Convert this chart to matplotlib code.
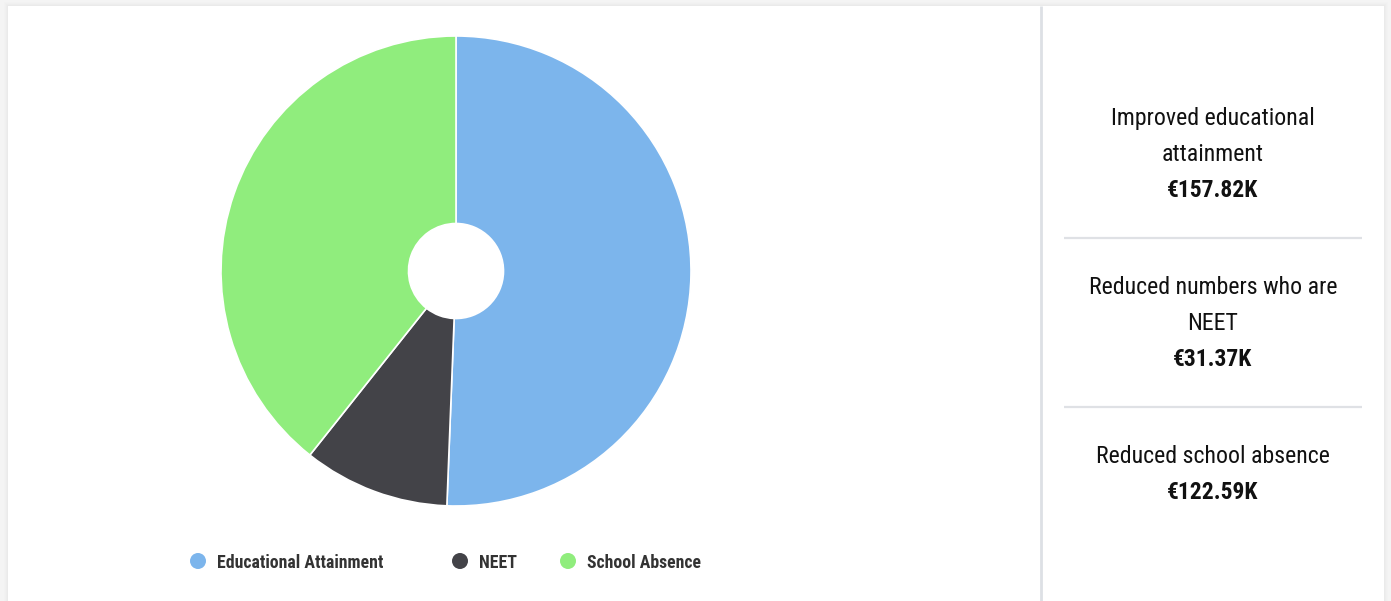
import matplotlib.pyplot as plt
from matplotlib.patches import Rectangle, Circle

# social value breakdown, thousands of euro
categories = ['Educational Attainment', 'NEET', 'School Absence']
values = [157.82, 31.37, 122.59]
colors = ['#7cb5ec', '#434348', '#90ed7d']

panel_titles = ['Improved educational\nattainment', 'Reduced numbers who are\nNEET', 'Reduced school absence']

W, H = 1391, 601
plt.rcParams['font.family'] = ['Roboto Condensed', 'Roboto', 'DejaVu Sans']

fig = plt.figure(figsize=(W / 100, H / 100), dpi=100, facecolor='#f4f4f4')
ax = fig.add_axes([0, 0, 1, 1])

# card with a soft shadow
for i, a in enumerate([0.02, 0.03, 0.04, 0.05]):
    d = 4 - i
    ax.add_patch(Rectangle((8 - d, -10), 1376 + 2 * d, H - 6 + 10 + d,
                           facecolor='#bbbbbb', alpha=a, edgecolor='none', zorder=0))
ax.add_patch(Rectangle((8, -10), 1376, H - 6 + 10, facecolor='white', edgecolor='none', zorder=1))

# donut
ax.pie(values, colors=colors, center=(456, H - 271), radius=235, startangle=90,
       counterclock=False,
       wedgeprops=dict(width=235 - 47.5, edgecolor='white', linewidth=1.2, zorder=2))

# legend
leg_x = [198, 460, 568]
for x, c, name in zip(leg_x, colors, categories):
    ax.add_patch(Circle((x, H - 561), 8, facecolor=c, edgecolor='none', zorder=3))
    ax.text(x + 19, H - 562.5, name, fontsize=12.8, fontweight='bold', color='#333333',
            va='center', ha='left', zorder=3)

# right-hand panel
ax.plot([1041, 1041], [0, H - 6], color='#dde0e5', lw=2, zorder=3, solid_capstyle='butt')
for y in [238, 407]:
    ax.plot([1064, 1362], [H - y, H - y], color='#dfe1e5', lw=1.6, zorder=3, solid_capstyle='butt')

title_top = [118.5, 287.5, 456.5]
for y0, title, v in zip(title_top, panel_titles, values):
    lines = title.split('\n')
    for k, line in enumerate(lines):
        ax.text(1213, H - (y0 + 36 * k), line, fontsize=17.2, color='#111111',
                ha='center', va='center', zorder=3)
    ax.text(1213, H - (y0 + 36 * len(lines)), f'€{v:.2f}K', fontsize=16.9,
            fontweight='bold', color='#111111', ha='center', va='center', zorder=3)

ax.set_xlim(0, W)
ax.set_ylim(0, H)
ax.set_aspect('auto')
ax.axis('off')

fig.savefig('out.png', dpi=100, facecolor=fig.get_facecolor())
